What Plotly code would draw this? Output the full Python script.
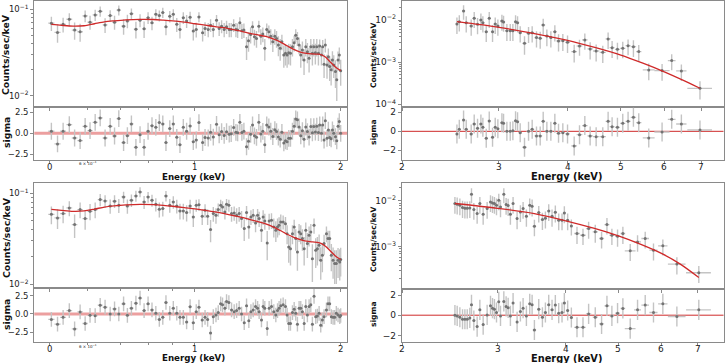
import math
import plotly.graph_objects as go

W, H = 725, 363

# ---------------- data: top-left spectrum (0.5-2 keV) ----------------
tl_energy = [0.505, 0.520, 0.534, 0.550, 0.564, 0.579, 0.593, 0.607, 0.622, 0.637,
             0.652, 0.668, 0.682, 0.696, 0.712, 0.725, 0.739, 0.755, 0.770, 0.785,
             0.800, 0.815, 0.830, 0.844, 0.858, 0.871, 0.887, 0.902, 0.917, 0.931,
             0.946, 0.961, 0.977, 0.992, 1.006,
             1.019, 1.037, 1.049, 1.065, 1.077, 1.091, 1.108, 1.122, 1.135, 1.149,
             1.162, 1.177, 1.188, 1.202, 1.215, 1.225, 1.238, 1.250, 1.262, 1.278,
             1.290, 1.303, 1.315, 1.327, 1.340, 1.355, 1.368, 1.381, 1.394, 1.407,
             1.421, 1.434, 1.448, 1.462, 1.474, 1.487, 1.500, 1.512, 1.526, 1.538,
             1.550, 1.562, 1.575, 1.590, 1.603, 1.615, 1.628, 1.641, 1.654, 1.667,
             1.680, 1.694, 1.707, 1.721, 1.735, 1.748, 1.760, 1.773, 1.785, 1.799,
             1.810, 1.825, 1.836, 1.848, 1.859, 1.874, 1.886, 1.898, 1.911, 1.923,
             1.935, 1.951, 1.963, 1.975, 1.987, 2.000]
tl_counts = [0.069, 0.054, 0.067, 0.0767, 0.0574, 0.055, 0.0838, 0.071, 0.086, 0.0948,
             0.066, 0.0846, 0.071, 0.098, 0.0638, 0.0734, 0.089, 0.0589, 0.0748, 0.0594,
             0.080, 0.0697, 0.0877, 0.0846, 0.0916, 0.0627, 0.083, 0.0877, 0.067, 0.0585,
             0.080, 0.0734, 0.081, 0.056, 0.0585,
             0.0816, 0.0535, 0.0600, 0.0584, 0.0655, 0.0584, 0.0747, 0.0600, 0.0638, 0.0584,
             0.0626, 0.0584, 0.0584, 0.0655, 0.0584, 0.0574, 0.0697, 0.0564, 0.0574, 0.0369,
             0.0433, 0.0511, 0.0626, 0.0481, 0.0460, 0.0638, 0.0489, 0.0516, 0.0353, 0.0584,
             0.0549, 0.0489, 0.0421, 0.0489, 0.0460, 0.0386, 0.0353, 0.0421, 0.0296, 0.0309,
             0.0296, 0.0315, 0.0309, 0.0369, 0.0410, 0.0502, 0.0460, 0.0386, 0.0296, 0.0338,
             0.0259, 0.0369, 0.0323, 0.0271, 0.0369, 0.0309, 0.0369, 0.0315, 0.0369, 0.0309,
             0.0376, 0.0296, 0.0369, 0.0231, 0.0386, 0.0227, 0.0283, 0.0217, 0.0199, 0.0259,
             0.0227, 0.0190, 0.0153, 0.0259, 0.0296, 0.0195]
tl_err = [0.013, 0.013, 0.013, 0.013, 0.013, 0.013, 0.013, 0.013, 0.013, 0.013,
          0.013, 0.013, 0.013, 0.013, 0.013, 0.013, 0.013, 0.013, 0.013, 0.013,
          0.0125, 0.0125, 0.0125, 0.0125, 0.0125, 0.0125, 0.0125, 0.0125, 0.0125, 0.0125,
          0.0125, 0.0125, 0.0125, 0.0125, 0.0115,
          0.011, 0.011, 0.011, 0.011, 0.011, 0.011, 0.011, 0.011, 0.011, 0.011,
          0.011, 0.011, 0.011, 0.011, 0.011, 0.011, 0.011, 0.011, 0.011, 0.011,
          0.011, 0.011, 0.010, 0.010, 0.010, 0.010, 0.010, 0.010, 0.010, 0.010,
          0.010, 0.010, 0.010, 0.010, 0.010, 0.010, 0.010, 0.0085, 0.0085, 0.0085,
          0.0085, 0.0085, 0.0085, 0.0085, 0.0085, 0.0085, 0.0085, 0.0085, 0.0085, 0.0085,
          0.0085, 0.0085, 0.0085, 0.0085, 0.0085, 0.0085, 0.0085, 0.0085, 0.0085, 0.0085,
          0.0072, 0.0072, 0.0071, 0.0071, 0.0070, 0.0070, 0.0069, 0.0069, 0.0068, 0.0068,
          0.0067, 0.0067, 0.0066, 0.0066, 0.0065, 0.0065]
tl_sigma = [0.24, -1.27, 0.24, 1.03, -0.56, -0.87, 0.83, 0.32, 1.31, 1.83,
            -0.56, 0.83, -0.32, 1.75, -1.11, -0.28, 1.11, -1.67, -0.16, -1.67,
            0.24, 0.91, 0.71, 1.27, 1.11, -1.11, 0.56, 1.11, -0.48, -1.35,
            0.71, 0.24, 0.87, -1.0, -0.8,
            1.28, -1.1, -0.5, -0.56, 0.11, -0.45, 1.07, -0.18, 0.2, -0.25,
            0.19, -0.1, -0.05, 0.7, 0.12, 0.06, 1.3, 0.1, 0.25, -1.6,
            -0.95, -0.12, 1.0, -0.3, -0.48, 1.3, -0.09, 0.23, -1.35, 1.0,
            0.75, 0.24, -0.38, 0.43, 0.2, -0.45, -0.7, 0.12, -1.15, -0.9,
            -1.0, -0.6, -0.6, 0.24, 0.85, 1.7, 1.6, 0.75, -0.3, 0.3,
            -0.7, 0.75, 0.2, -0.45, 0.8, 0.06, 0.8, 0.15, 0.85, 0.09,
            1.0, 0.0, 1.0, -0.8, 1.5, -0.6, 0.38, -0.5, -0.65, 0.4,
            0.0, -0.4, -0.9, 0.85, 1.4, 0.0]
tl_model_energy = [0.505, 0.53, 0.56, 0.59, 0.62, 0.65, 0.68, 0.72, 0.77, 0.82, 0.86, 0.90,
                   0.95, 1.00, 1.05, 1.10, 1.15, 1.20, 1.25, 1.30, 1.35, 1.40, 1.45, 1.50,
                   1.55, 1.60, 1.65, 1.70, 1.75, 1.80, 1.83, 1.86, 1.90, 1.95, 2.00]
tl_model = [0.0668, 0.0652, 0.0638, 0.0645, 0.068, 0.0715, 0.0735, 0.0755, 0.0765, 0.0762,
            0.075, 0.0735, 0.071, 0.068, 0.0655, 0.063, 0.0612, 0.058, 0.0555, 0.0525,
            0.0505, 0.0485, 0.0455, 0.042, 0.0378, 0.0343, 0.032, 0.0308, 0.0304, 0.0302,
            0.0295, 0.028, 0.0248, 0.0215, 0.0195]

# ---------------- data: bottom-left spectrum (0.5-2 keV) ----------------
bl_energy = [0.505, 0.520, 0.534, 0.550, 0.564, 0.579, 0.593, 0.607, 0.622, 0.637,
             0.652, 0.668, 0.682, 0.696, 0.712, 0.725, 0.739, 0.755, 0.770, 0.785,
             0.800, 0.815, 0.830, 0.844, 0.858, 0.871, 0.887, 0.902, 0.917, 0.931,
             0.946, 0.961, 0.977, 0.992,
             1.006, 1.019, 1.035, 1.049, 1.062, 1.077, 1.091, 1.105, 1.117, 1.130,
             1.140, 1.153, 1.162, 1.175, 1.190, 1.205, 1.219, 1.234, 1.248, 1.264,
             1.278, 1.292, 1.305, 1.319, 1.334, 1.347, 1.357, 1.372, 1.383, 1.394,
             1.410, 1.423, 1.439, 1.455, 1.469, 1.481, 1.492, 1.504, 1.521, 1.538,
             1.550, 1.562, 1.575, 1.590, 1.603, 1.615, 1.628, 1.641, 1.654, 1.667,
             1.681, 1.694, 1.707, 1.721, 1.735, 1.748, 1.762, 1.776, 1.790, 1.805,
             1.819, 1.833, 1.848, 1.869, 1.883, 1.898, 1.913, 1.929, 1.944, 1.959,
             1.975, 1.991, 2.000]
bl_counts = [0.0587, 0.0536, 0.0598, 0.069, 0.0453, 0.0662, 0.0527, 0.0634, 0.0662, 0.0852,
             0.0824, 0.0726, 0.082, 0.0738, 0.0911, 0.0726, 0.0838, 0.0935, 0.1033, 0.0803,
             0.0911, 0.0838, 0.0757, 0.0667, 0.068, 0.0935, 0.0738, 0.0803, 0.0726, 0.064,
             0.064, 0.0614, 0.0726, 0.055,
             0.0738, 0.075, 0.0559, 0.065, 0.0559, 0.0399, 0.0598, 0.0573, 0.0662, 0.0738,
             0.0708, 0.0624, 0.0757, 0.0738, 0.0598, 0.0608, 0.0573, 0.0598, 0.0527, 0.0409,
             0.0614, 0.0427, 0.0549, 0.0573, 0.0472, 0.0573, 0.0527, 0.0392, 0.0549, 0.0497,
             0.0284, 0.0497, 0.0505, 0.0427, 0.0392, 0.0427, 0.0445, 0.0484, 0.0484, 0.0464,
             0.036, 0.0257, 0.0246, 0.036, 0.0427, 0.0318, 0.0226, 0.0376, 0.036, 0.0318,
             0.0246, 0.0392, 0.028, 0.0346, 0.0376, 0.0191, 0.0445, 0.0236, 0.0246, 0.0268,
             0.0184, 0.0208, 0.028, 0.036, 0.0318, 0.0318, 0.0208, 0.0184, 0.0169, 0.0169,
             0.0184, 0.0176, 0.0187]
bl_err = [0.013, 0.013, 0.013, 0.013, 0.013, 0.013, 0.013, 0.013, 0.013, 0.013,
          0.013, 0.013, 0.013, 0.013, 0.013, 0.013, 0.013, 0.013, 0.013, 0.013,
          0.0125, 0.0125, 0.0125, 0.0125, 0.0125, 0.0125, 0.0125, 0.0125, 0.0125, 0.0125,
          0.0125, 0.0125, 0.0125, 0.0125,
          0.011, 0.011, 0.011, 0.011, 0.011, 0.011, 0.011, 0.011, 0.011, 0.011,
          0.011, 0.011, 0.011, 0.011, 0.011, 0.011, 0.011, 0.011, 0.011, 0.011,
          0.011, 0.011, 0.010, 0.010, 0.010, 0.010, 0.010, 0.010, 0.010, 0.010,
          0.010, 0.010, 0.010, 0.010, 0.010, 0.010, 0.010, 0.010, 0.0085, 0.0085,
          0.0085, 0.0085, 0.0085, 0.0085, 0.0085, 0.0085, 0.0085, 0.0085, 0.0085, 0.0085,
          0.0085, 0.0085, 0.0085, 0.0085, 0.0085, 0.0085, 0.0085, 0.0085, 0.0085, 0.0085,
          0.0072, 0.0072, 0.0071, 0.0071, 0.0070, 0.0070, 0.0069, 0.0069, 0.0068, 0.0068,
          0.0067, 0.0066, 0.0065]
bl_sigma = [-0.74, -1.39, -0.46, 0.46, -2.04, 0.28, -1.30, -0.19, -0.23, 1.2,
            0.93, 0.0, 0.69, 0.0, 1.39, -0.19, 0.79, 1.48, 2.18, 0.46,
            1.39, 0.56, 0.1, -0.74, -0.46, 1.57, 0.1, 0.79, 0.1, -0.46,
            -0.46, -1.1, 1.0, -1.2,
            0.32, 0.93, -0.83, -0.46, -0.74, -2.6, -0.37, -0.14, 0.19, 1.39,
            1.25, 0.79, 1.71, 1.57, 0.56, 0.32, 0.46, 0.79, 0.0, -1.2,
            1.11, -0.93, 0.32, 0.56, 1.02, 0.79, 0.32, -0.83, 1.02, 0.79,
            -1.99, 0.79, 1.02, 0.32, -0.14, 0.46, 0.79, 1.11, 1.25, 1.02,
            -0.14, -1.3, -1.3, 0.19, 0.65, 0.09, -1.39, 0.79, 0.79, 0.32,
            -1.3, 1.02, -0.14, 1.02, 1.25, -1.39, 2.41, -0.37, -0.28, 0.09,
            -1.53, -0.83, -0.37, 0.56, 1.39, 1.39, -0.37, -0.46, -0.46, 0.09,
            -0.14, -0.37, -0.2]
bl_model_energy = [0.505, 0.53, 0.56, 0.59, 0.62, 0.65, 0.68, 0.72, 0.77, 0.82, 0.86, 0.90,
                   0.95, 1.00, 1.05, 1.10, 1.15, 1.20, 1.25, 1.30, 1.35, 1.40, 1.45, 1.50,
                   1.55, 1.60, 1.65, 1.70, 1.75, 1.80, 1.83, 1.86, 1.90, 1.95, 2.00]
bl_model = [0.0667, 0.065, 0.0634, 0.064, 0.067, 0.0705, 0.0726, 0.0745, 0.0757, 0.0752,
            0.0738, 0.072, 0.0695, 0.0675, 0.065, 0.0625, 0.0598, 0.057, 0.0545, 0.0515,
            0.0488, 0.0462, 0.0428, 0.039, 0.0355, 0.0328, 0.031, 0.0298, 0.0292, 0.0287,
            0.0278, 0.0262, 0.0235, 0.0205, 0.0187]

# ---------------- data: top-right spectrum (2.5-7 keV) ----------------
tr_energy = [2.515, 2.540, 2.586, 2.615, 2.670, 2.704, 2.742, 2.781, 2.804, 2.844,
             2.880, 2.920, 2.953, 2.986, 3.037, 3.058, 3.101, 3.145, 3.180, 3.216,
             3.243, 3.279, 3.339, 3.396, 3.448, 3.511, 3.566, 3.611, 3.667, 3.729,
             3.792, 3.851, 3.921, 3.999, 4.112, 4.205, 4.300, 4.397, 4.509, 4.636,
             4.741, 4.821, 4.930, 5.041, 5.155, 5.272, 5.391, 5.622, 5.945, 6.190,
             6.446, 6.969]
tr_counts = [0.00804, 0.00913, 0.01634, 0.00865, 0.00721, 0.01095, 0.00789, 0.0100, 0.00865, 0.00529,
             0.01095, 0.00529, 0.00804, 0.00721, 0.00947, 0.00897, 0.00559, 0.00559, 0.00559, 0.00913,
             0.00865, 0.00501, 0.0028, 0.00483, 0.00501, 0.00382, 0.00368, 0.00761, 0.00418, 0.00382,
             0.00529, 0.00318, 0.00324, 0.00296, 0.00178, 0.00242, 0.00336, 0.00206, 0.00184, 0.00171,
             0.00355, 0.00221, 0.00202, 0.00213, 0.00246, 0.00233, 0.00178, 0.000653, 0.00063, 0.00109,
             0.000619, 0.00024]
tr_err = [0.0034, 0.0038, 0.0062, 0.0036, 0.0030, 0.0045, 0.0033, 0.0042, 0.0036, 0.0023,
          0.0045, 0.0023, 0.0034, 0.0030, 0.0039, 0.0037, 0.0024, 0.0024, 0.0024, 0.0038,
          0.0036, 0.0021, 0.0013, 0.0020, 0.0021, 0.0016, 0.0016, 0.0031, 0.0018, 0.0016,
          0.0022, 0.0014, 0.0014, 0.0013, 0.0008, 0.0010, 0.0014, 0.0009, 0.0008, 0.00075,
          0.0015, 0.00095, 0.00087, 0.0009, 0.0010, 0.0010, 0.00076, 0.00028, 0.00027, 0.00045,
          0.00026, 0.00011]
tr_xerr = [0.012, 0.015, 0.017, 0.02, 0.02, 0.02, 0.02, 0.02, 0.02, 0.02,
           0.02, 0.02, 0.02, 0.02, 0.02, 0.02, 0.022, 0.022, 0.022, 0.022,
           0.022, 0.025, 0.03, 0.03, 0.03, 0.03, 0.03, 0.03, 0.03, 0.03,
           0.03, 0.035, 0.035, 0.04, 0.05, 0.05, 0.05, 0.05, 0.06, 0.06,
           0.05, 0.05, 0.05, 0.055, 0.055, 0.06, 0.06, 0.14, 0.19, 0.10,
           0.14, 0.36]
tr_sigma = [-0.28, 0.21, 1.19, 0.21, -0.28, 0.77, 0.32, 0.77, 0.42, -0.74,
            1.09, -0.63, 0.42, 0.28, 0.91, 0.84, 0.0, 0.0, 0.07, 1.12,
            1.02, -0.14, -1.68, 0.0, 0.21, -0.49, -0.49, 1.05, 0.0, 0.0,
            0.84, -0.21, -0.14, -0.28, -1.54, -0.35, 0.6, -0.49, -0.56, -0.56,
            1.05, 0.49, 0.42, 0.84, 1.05, 1.47, 0.91, -0.7, -0.07, 1.26,
            0.77, 0.14]
tr_model_energy = [2.515, 3.0, 3.5, 4.0, 4.5, 5.0, 5.5, 6.0, 6.5, 6.969]
tr_model = [0.0091, 0.0067, 0.0047, 0.0033, 0.0022, 0.00147, 0.00093, 0.00059, 0.00037, 0.00024]

# ---------------- data: bottom-right spectrum (2.5-7 keV) ----------------
br_energy = [2.500, 2.524, 2.553, 2.582, 2.608, 2.634, 2.663, 2.682, 2.709, 2.747,
             2.779, 2.818, 2.866, 2.907, 2.932, 2.956, 2.982, 3.011, 3.033, 3.076,
             3.106, 3.133, 3.163, 3.199, 3.254, 3.300, 3.338, 3.385, 3.433, 3.468,
             3.502, 3.567, 3.623, 3.669, 3.721, 3.774, 3.827, 3.882, 3.937, 3.976,
             4.032, 4.096, 4.195, 4.303, 4.407, 4.533, 4.656, 4.763, 4.864, 4.982,
             5.096, 5.257, 5.423, 5.602, 5.802, 6.037, 6.407, 7.031]
br_counts = [0.00875, 0.00846, 0.00805, 0.00716, 0.00693, 0.00693, 0.00705, 0.01396, 0.00648, 0.0053,
             0.00875, 0.00513, 0.00681, 0.00951, 0.00905, 0.00875, 0.00805, 0.01034, 0.0074, 0.01396,
             0.00833, 0.00792, 0.00513, 0.00875, 0.00413, 0.00577, 0.00681, 0.00464, 0.00805, 0.00766,
             0.00281, 0.00558, 0.00393, 0.0042, 0.00606, 0.00464, 0.00567, 0.0038, 0.0038, 0.00548,
             0.0038, 0.00286, 0.00195, 0.00179, 0.0025, 0.00212, 0.00152, 0.00306, 0.00179, 0.0017,
             0.00195, 0.000818, 0.00128, 0.00152, 0.000846, 0.00105, 0.00042, 0.000272]
br_err = [0.0035, 0.0034, 0.0032, 0.0029, 0.0028, 0.0028, 0.0028, 0.0050, 0.0026, 0.0021,
          0.0035, 0.0021, 0.0027, 0.0038, 0.0036, 0.0035, 0.0032, 0.0041, 0.0030, 0.0050,
          0.0033, 0.0032, 0.0021, 0.0035, 0.0017, 0.0023, 0.0027, 0.0019, 0.0032, 0.0031,
          0.0011, 0.0022, 0.0016, 0.0017, 0.0024, 0.0019, 0.0023, 0.0015, 0.0015, 0.0022,
          0.0015, 0.0011, 0.0008, 0.0007, 0.0010, 0.0009, 0.0006, 0.0012, 0.0007, 0.0007,
          0.0008, 0.00033, 0.0005, 0.0006, 0.00034, 0.0004, 0.00017, 0.00011]
br_xerr = [0.015, 0.015, 0.015, 0.015, 0.015, 0.015, 0.015, 0.015, 0.015, 0.015,
           0.015, 0.015, 0.015, 0.015, 0.015, 0.015, 0.015, 0.015, 0.015, 0.015,
           0.015, 0.015, 0.015, 0.015, 0.015, 0.015, 0.015, 0.015, 0.015, 0.015,
           0.025, 0.025, 0.025, 0.025, 0.025, 0.025, 0.025, 0.025, 0.025, 0.025,
           0.025, 0.025, 0.05, 0.05, 0.05, 0.05, 0.05, 0.05, 0.05, 0.05,
           0.05, 0.12, 0.08, 0.09, 0.10, 0.12, 0.24, 0.37]
br_sigma = [0.0, -0.07, -0.2, -0.4, -0.4, -0.4, -0.27, 1.03, -0.53, -1.13,
            0.53, -0.93, 0.03, 0.93, 0.7, 0.6, 0.27, 1.33, -0.07, 1.37,
            0.87, 0.73, -0.07, 1.2, -0.67, 0.37, 0.7, -0.07, 1.13, 1.03,
            -1.47, 0.6, -0.2, 0.27, 1.03, 0.53, 1.0, 0.2, 0.27, 1.2,
            0.47, -0.23, -1.2, -1.2, 0.13, -0.2, -0.87, 0.93, -0.07, 0.2,
            0.67, -1.33, 0.53, 1.0, 0.27, 1.13, -0.13, 0.53]
br_model_energy = [2.500, 3.0, 3.5, 4.0, 4.5, 5.0, 5.5, 6.0, 6.5, 7.031]
br_model = [0.0088, 0.0069, 0.0053, 0.0037, 0.00255, 0.00173, 0.00113, 0.00072, 0.00042, 0.000215]

# tick labels
left_xticks = [0.5, 1, 2]
left_xticklabels = ["0", "1", "2"]
right_xticks = [2, 3, 4, 5, 6, 7]
right_xticklabels = ["2", "3", "4", "5", "6", "7"]

# ---------------- styling ----------------
FONT = "DejaVu Sans"
SPINE = "#8a8a8a"
PT = "#737373"
EB = "#c4c4c4"
RED = "#cf2a2a"
LEFT_XERR = 0.0075

fig = go.Figure()
layout = dict(width=W, height=H, margin=dict(l=0, r=0, t=0, b=0, autoexpand=False),
              template="none",
              paper_bgcolor="white", plot_bgcolor="white", showlegend=False,
              font=dict(family=FONT, color="#222"), annotations=[], shapes=[])


def px_x(p):
    return p / W


def px_y(p):
    return 1 - p / H


def label(text, x, y, size, angle=0):
    layout["annotations"].append(dict(text="<b>%s</b>" % text, x=px_x(x), y=px_y(y),
                                      xref="paper", yref="paper", showarrow=False,
                                      textangle=angle, xanchor="center", yanchor="middle",
                                      font=dict(size=size, family=FONT, color="#111")))


def add_panel(n, xdom, ytop, ymid, ybot, xrange, yr_main, yr_res, xt, xtl, xminor,
              ytv, yttxt, yminor, rtv, rttxt, energy, counts, err, xerr, sigma,
              menergy, model, zero_w, zero_c, tickfs, xlabel_y):
    km, kr = 2 * n - 1, 2 * n
    sm = "" if km == 1 else str(km)
    sr = str(kr)
    common = dict(showline=True, linecolor=SPINE, linewidth=1.1, mirror=True,
                  ticks="outside", ticklen=3, tickcolor=SPINE, showgrid=False,
                  zeroline=False, automargin=False,
                  tickfont=dict(size=tickfs, family=FONT, color="#222"))
    layout["xaxis" + sm] = dict(common, type="log", range=xrange, domain=xdom,
                                anchor="y" + sm, tickmode="array", tickvals=xt,
                                showticklabels=False,
                                minor=dict(tickvals=xminor, ticks="outside", ticklen=2, tickcolor=SPINE))
    layout["yaxis" + sm] = dict(common, type="log", range=yr_main,
                                domain=[px_y(ymid), px_y(ytop)], anchor="x" + sm,
                                tickmode="array", tickvals=ytv, ticktext=yttxt,
                                minor=dict(tickvals=yminor, ticks="outside", ticklen=2, tickcolor=SPINE))
    layout["xaxis" + sr] = dict(common, type="log", range=xrange, domain=xdom,
                                anchor="y" + sr, tickmode="array", tickvals=xt,
                                showticklabels=False,
                                minor=dict(tickvals=xminor, ticks="outside", ticklen=2, tickcolor=SPINE))
    layout["yaxis" + sr] = dict(common, range=yr_res, domain=[px_y(ybot), px_y(ymid)],
                                anchor="x" + sr, tickmode="array", tickvals=rtv, ticktext=rttxt)
    for v, t in zip(xt, xtl):
        layout["annotations"].append(dict(text=t, x=math.log10(v), y=px_y(xlabel_y),
                                          xref="x" + sr, yref="paper", showarrow=False,
                                          xanchor="center", yanchor="middle",
                                          font=dict(size=tickfs, family=FONT, color="#222")))
    if isinstance(xerr, list):
        xe = dict(type="data", array=xerr, color=EB, thickness=1.3, width=0)
    else:
        xe = dict(type="constant", value=xerr, color=EB, thickness=1.3, width=0)
    fig.add_trace(go.Scatter(x=energy, y=counts, mode="markers",
                             marker=dict(size=3, color=PT),
                             error_y=dict(type="data", array=err, color=EB, thickness=1.4, width=0),
                             error_x=xe, xaxis="x" + sm, yaxis="y" + sm))
    fig.add_trace(go.Scatter(x=menergy, y=model, mode="lines",
                             line=dict(color=RED, width=1.3, shape="spline", smoothing=0.8),
                             xaxis="x" + sm, yaxis="y" + sm))
    layout["shapes"].append(dict(type="line", xref="x" + sr + " domain", x0=0, x1=1,
                                 yref="y" + sr, y0=0, y1=0,
                                 line=dict(color=zero_c, width=zero_w), layer="below"))
    fig.add_trace(go.Scatter(x=energy, y=sigma, mode="markers",
                             marker=dict(size=3, color=PT),
                             error_y=dict(type="constant", value=1.0, color=EB, thickness=1.4, width=0),
                             error_x=xe, xaxis="x" + sr, yaxis="y" + sr))


LX = [34.3 / W, 347.3 / W]
RX = [402.0 / W, 723.5 / W]
left_minor_x = [0.6, 0.7, 0.8, 0.9]
minor_left_y = [0.02, 0.03, 0.04, 0.05, 0.06, 0.07, 0.08, 0.09]
minor_right_y = [0.0002, 0.0003, 0.0004, 0.0005, 0.0006, 0.0007, 0.0008, 0.0009,
                 0.002, 0.003, 0.004, 0.005, 0.006, 0.007, 0.008, 0.009, 0.02]

add_panel(1, LX, 0.7, 107, 160, [-0.332, 0.3147], [-2.131, -0.9005], [-3.18, 3.13],
          left_xticks, left_xticklabels, left_minor_x,
          [0.01, 0.1], ["10<sup>−2</sup>", "10<sup>−1</sup>"], minor_left_y,
          [-2.5, 0, 2.5], ["−2.5", "0.0", "2.5"],
          tl_energy, tl_counts, tl_err, LEFT_XERR, tl_sigma, tl_model_energy, tl_model,
          3, "rgba(220,80,80,0.55)", 8.5, 167)
add_panel(2, RX, 0.7, 107, 160, [0.3005, 0.886], [-4.064, -1.542], [-3.02, 2.56],
          right_xticks, right_xticklabels, [],
          [0.0001, 0.001, 0.01], ["10<sup>−4</sup>", "10<sup>−3</sup>", "10<sup>−2</sup>"], minor_right_y,
          [-2, 0, 2], ["−2", "0", "2"],
          tr_energy, tr_counts, tr_err, tr_xerr, tr_sigma, tr_model_energy, tr_model,
          1, RED, 9, 167)
add_panel(3, LX, 183, 288.3, 342.3, [-0.332, 0.3147], [-2.044, -0.887], [-3.87, 3.51],
          left_xticks, left_xticklabels, left_minor_x,
          [0.01, 0.1], ["10<sup>−2</sup>", "10<sup>−1</sup>"], minor_left_y,
          [-2.5, 0, 2.5], ["−2.5", "0.0", "2.5"],
          bl_energy, bl_counts, bl_err, LEFT_XERR, bl_sigma, bl_model_energy, bl_model,
          3, "rgba(220,80,80,0.55)", 8.5, 349)
add_panel(4, RX, 183.3, 288.7, 342.3, [0.3005, 0.8925], [-3.913, -1.615], [-2.69, 2.63],
          right_xticks, right_xticklabels, [],
          [0.001, 0.01], ["10<sup>−3</sup>", "10<sup>−2</sup>"], minor_right_y,
          [-2, 0, 2], ["−2", "0", "2"],
          br_energy, br_counts, br_err, br_xerr, br_sigma, br_model_energy, br_model,
          1, RED, 9, 349)

label("Counts/sec/keV", 6, 55, 9.3, -90)
label("sigma", 6, 133, 9.3, -90)
label("Counts/sec/keV", 373, 56, 7.6, -90)
label("sigma", 373, 132, 7.6, -90)
label("Counts/sec/keV", 6, 238, 9.3, -90)
label("sigma", 6, 315, 9.3, -90)
label("Counts/sec/keV", 373, 240, 7.6, -90)
label("sigma", 373, 314, 7.6, -90)
label("Energy (keV)", 193, 176.5, 8.7)
label("Energy (keV)", 566, 176, 9.8)
label("Energy (keV)", 193, 358, 8.7)
label("Energy (keV)", 566, 358, 9.8)

for ax, ypix in (("x2", 163.5), ("x6", 346)):
    layout["annotations"].append(dict(text="6 × 10<sup>−1</sup>", x=math.log10(0.6), y=px_y(ypix),
                                      xref=ax, yref="paper", showarrow=False,
                                      xanchor="center", yanchor="middle",
                                      font=dict(size=4, family=FONT, color="#222")))

fig.update_layout(**layout)
fig.write_html("out.html", config={"displayModeBar": False, "staticPlot": True},
               post_script="document.body.style.margin='0px';document.body.style.padding='0px';"
                           "document.documentElement.style.overflow='hidden';")
